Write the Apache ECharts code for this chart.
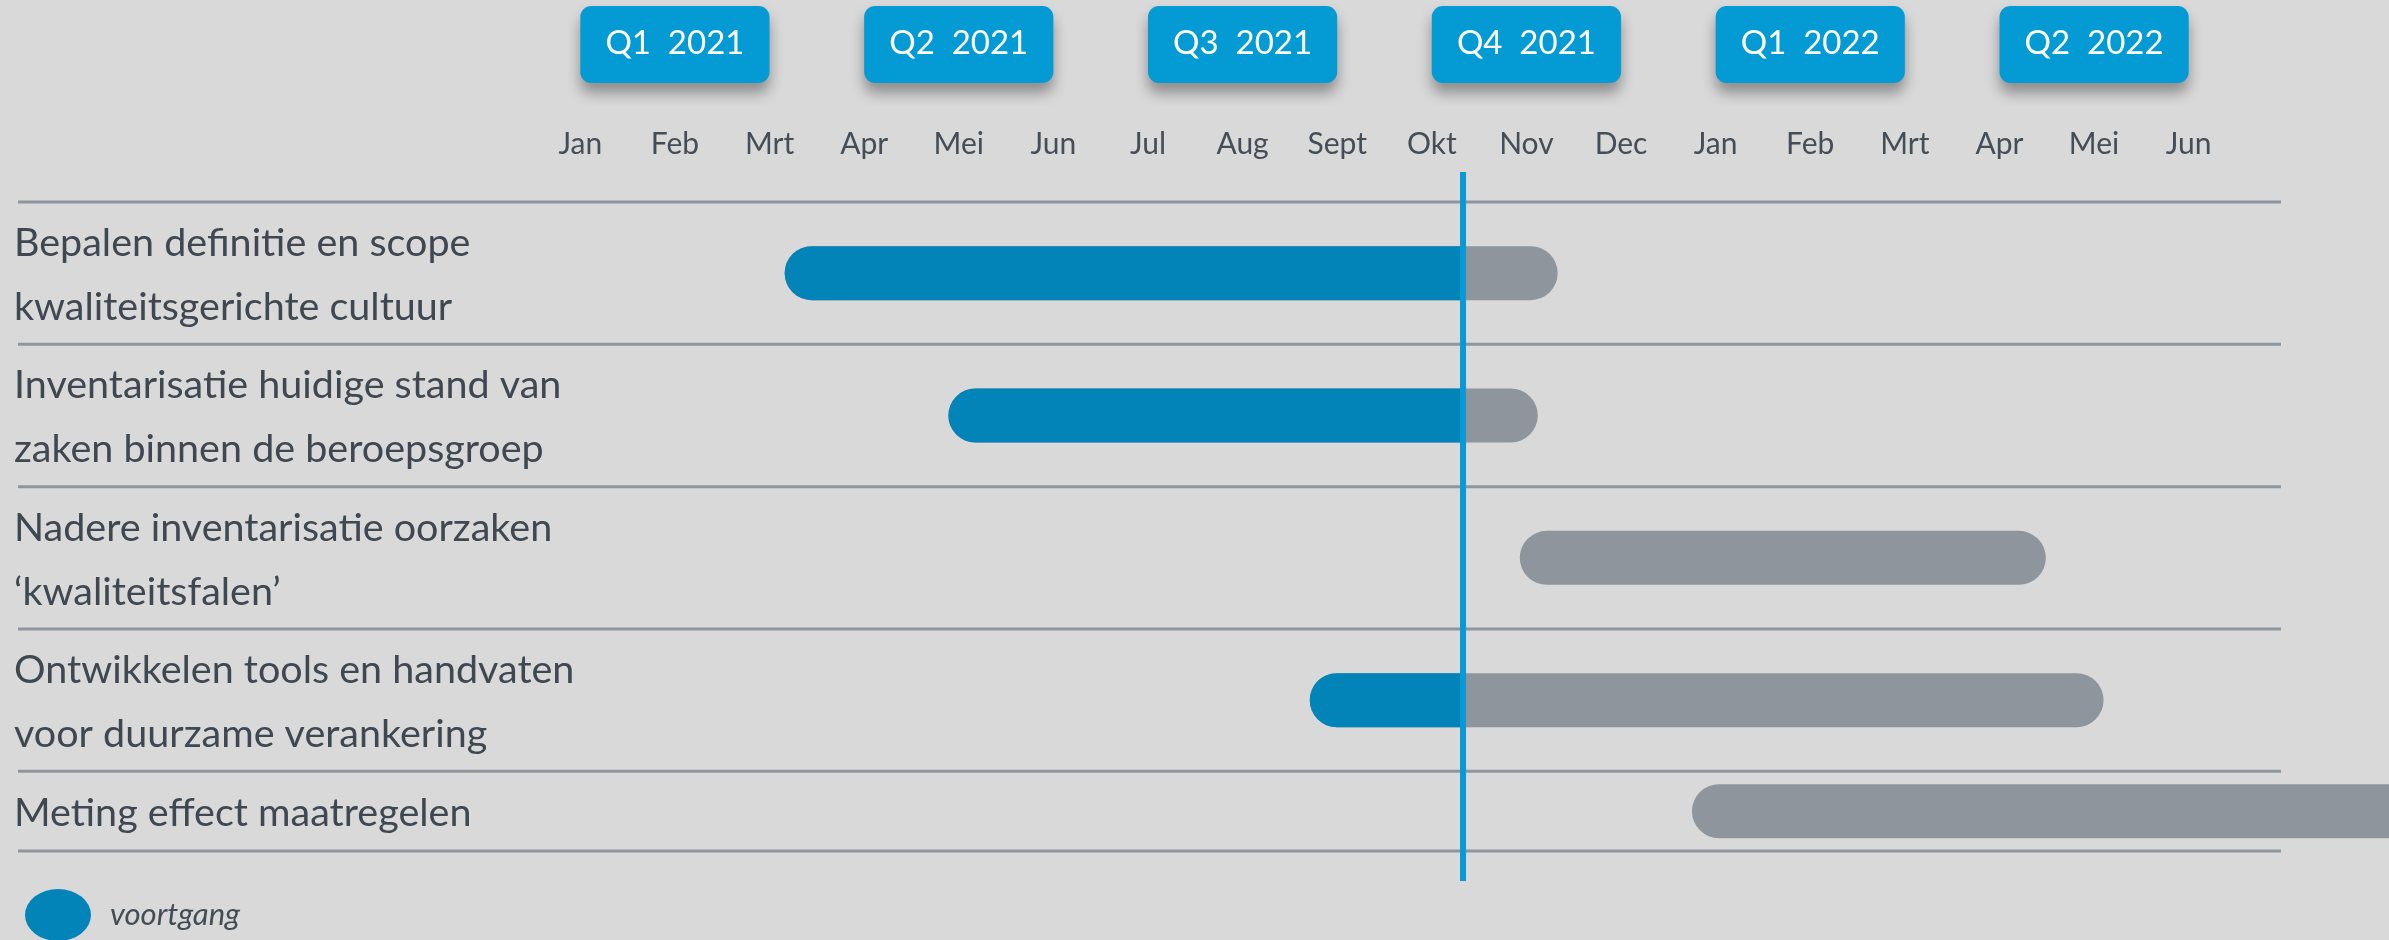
<!DOCTYPE html>
<html><head><meta charset="utf-8">
<script src="https://cdn.jsdelivr.net/npm/echarts@6/dist/echarts.min.js"></script>
<style>html,body{margin:0;padding:0;background:#D9D9D9;}#c{width:2389px;height:940px;}</style>
</head><body><div id="c"></div>
<script>
// ---- data ----
const months = ['Jan','Feb','Mrt','Apr','Mei','Jun','Jul','Aug','Sept','Okt','Nov','Dec','Jan','Feb','Mrt','Apr','Mei','Jun'];
const quarters = ['Q1  2021','Q2  2021','Q3  2021','Q4  2021','Q1  2022','Q2  2022'];
const taskLabels = [
  ['Bepalen definitie en scope','kwaliteitsgerichte cultuur'],
  ['Inventarisatie huidige stand van','zaken binnen de beroepsgroep'],
  ['Nadere inventarisatie oorzaken','\u2018kwaliteitsfalen\u2019'],
  ['Ontwikkelen tools en handvaten','voor duurzame verankering'],
  ['Meting effect maatregelen']
];
// months since 1 Jan 2021
const taskStart = [2.66, 4.39, 10.43, 8.21, 12.25];
const taskEnd   = [10.83, 10.62, 15.99, 16.60, 20.60];
const today = 9.83;
const legendName = 'voortgang';

// ---- style / layout ----
const BG = '#D9D9D9', BLUE = '#0284B8', GRAY = '#8E959C', LINE_BLUE = '#0A99D6', BOX_BLUE = '#049BD5';
const TEXT = '#3F4751', SEP = '#8E969D';
const FONT = 'Lato';
const BAR_H = 54, ROW_PAD = 0.27;

const rowH = taskLabels.map(l => l.length + ROW_PAD);
const edges = [0];
rowH.forEach(h => edges.push(edges[edges.length - 1] + h));
const total = edges[edges.length - 1];

const taskData = taskLabels.map((l, i) => [i, taskStart[i], taskEnd[i], edges[i], edges[i + 1]]);

const chart = echarts.init(document.getElementById('c'), null, {renderer: 'canvas'});
chart.setOption({
  backgroundColor: BG,
  animation: false,
  grid: {left: 533, right: 153, top: 202, bottom: 89, containLabel: false},
  legend: {
    data: [legendName], left: 20, top: 884, itemWidth: 66, itemHeight: 52,
    icon: 'path://M0,26A33,26 0 1 1 66,26A33,26 0 1 1 0,26Z',
    selectedMode: false,
    textStyle: {fontFamily: FONT, fontStyle: 'italic', fontSize: 31, color: '#444C55', padding: [0, 0, 0, 14]}
  },
  xAxis: [
    {type: 'category', data: months, position: 'top', axisLine: {show: false}, axisTick: {show: false},
     splitLine: {show: false},
     axisLabel: {margin: 43, fontFamily: FONT, fontSize: 30, color: '#454D56', interval: 0}},
    {type: 'value', min: 0, max: 18, show: false}
  ],
  yAxis: {type: 'value', min: 0, max: total, inverse: true, show: false},
  series: [
    { // row separators
      type: 'custom', xAxisIndex: 1, yAxisIndex: 0, clip: false, silent: true,
      data: edges.map(e => [0, e]),
      renderItem: (params, api) => {
        const y = api.coord([0, api.value(1)])[1];
        return {type: 'line', shape: {x1: 18, y1: y, x2: 2281, y2: y}, style: {stroke: SEP, lineWidth: 3}};
      }
    },
    { // tasks
      name: legendName, type: 'custom', xAxisIndex: 1, yAxisIndex: 0, clip: false,
      itemStyle: {color: BLUE},
      data: taskData,
      renderItem: (params, api) => {
        const i = api.value(0);
        const s = api.value(1), e = api.value(2);
        const yT = api.coord([0, api.value(3)])[1], yB = api.coord([0, api.value(4)])[1];
        const yc = (yT + yB) / 2;
        const x0 = api.coord([s, 0])[0], x1 = api.coord([e, 0])[0], xt = api.coord([today, 0])[0];
        const r = BAR_H / 2;
        const ch = [
          {type: 'text', style: {text: taskLabels[i].join('\n'), x: 14, y: yc + 2, align: 'left', verticalAlign: 'middle',
            fontFamily: FONT, fontSize: 39.5, lineHeight: 64, fill: TEXT}},
          {type: 'rect', shape: {x: x0, y: yc - r, width: x1 - x0, height: BAR_H, r: r}, style: {fill: GRAY}}
        ];
        if (xt > x0) {
          const xe = Math.min(xt, x1);
          ch.push({type: 'rect', shape: {x: x0, y: yc - r, width: xe - x0, height: BAR_H,
            r: xe >= x1 ? r : [r, 0, 0, r]}, style: {fill: BLUE}});
        }
        return {type: 'group', children: ch};
      }
    },
    { // quarter boxes
      type: 'custom', xAxisIndex: 1, yAxisIndex: 0, clip: false, silent: true,
      data: quarters.map((q, i) => [i, 0]),
      renderItem: (params, api) => {
        const q = api.value(0);
        const xa = api.coord([q * 3 + 0.5, 0])[0], xb = api.coord([q * 3 + 2.5, 0])[0];
        return {type: 'group', children: [
          {type: 'rect', shape: {x: xa, y: 6, width: xb - xa, height: 77, r: 11},
           style: {fill: BOX_BLUE, shadowBlur: 14, shadowOffsetY: 10, shadowColor: 'rgba(0,0,0,0.35)'}},
          {type: 'text', style: {text: quarters[q], x: (xa + xb) / 2, y: 43, align: 'center', verticalAlign: 'middle',
            fontFamily: FONT, fontSize: 33, fill: '#FFFFFF'}}
        ]};
      }
    },
    { // today line
      type: 'custom', xAxisIndex: 1, yAxisIndex: 0, clip: false, silent: true,
      data: [[today, 0]],
      renderItem: (params, api) => {
        const x = api.coord([api.value(0), 0])[0];
        return {type: 'line', shape: {x1: x, y1: 172, x2: x, y2: 881}, style: {stroke: LINE_BLUE, lineWidth: 6}};
      }
    }
  ]
});
</script></body></html>
